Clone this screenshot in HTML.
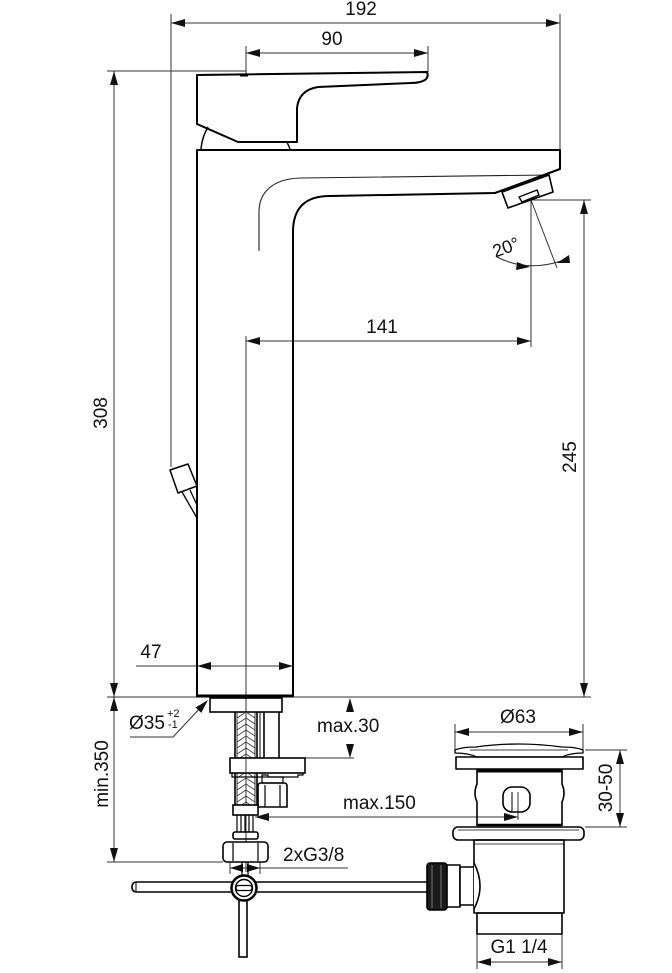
<!DOCTYPE html>
<html><head><meta charset="utf-8"><style>
html,body{margin:0;padding:0;background:#fff;}
svg{display:block;}
text{font-family:"Liberation Sans",Arial,sans-serif;fill:#111;}
</style></head><body>
<svg width="672" height="973" viewBox="0 0 672 973" xmlns="http://www.w3.org/2000/svg">
<defs>
<pattern id="braid" x="237" y="712" width="18" height="6" patternUnits="userSpaceOnUse">
<path d="M0,6 L9,0 L18,6" fill="none" stroke="#444" stroke-width="0.9"/>
</pattern>
</defs>

<!-- ===== DIMENSION / THIN LINES ===== -->
<g stroke="#333" stroke-width="1" fill="none">
<line x1="171" y1="23" x2="560" y2="23"/>
<line x1="171" y1="14" x2="171" y2="467"/>
<line x1="560" y1="14" x2="560" y2="150"/>
<line x1="246" y1="53" x2="428" y2="53"/>
<line x1="246" y1="46" x2="246" y2="75"/>
<line x1="428" y1="46" x2="428" y2="72"/>
<line x1="107" y1="71" x2="246" y2="71"/>
<line x1="114" y1="71" x2="114" y2="697"/>
<line x1="107" y1="697" x2="591" y2="697"/>
<line x1="114" y1="697" x2="114" y2="862"/>
<line x1="107" y1="862" x2="223" y2="862"/>
<line x1="246" y1="341" x2="531" y2="341"/>
<line x1="246" y1="336" x2="246" y2="872"/>
<line x1="531" y1="200" x2="531" y2="347"/>
<line x1="531" y1="200" x2="591" y2="200"/>
<line x1="584" y1="200" x2="584" y2="697"/>
<line x1="531" y1="200" x2="557" y2="268"/>
<path d="M497,257 Q530,274 569,258"/>
<line x1="136" y1="666" x2="293" y2="666"/>
<polyline points="130,737 173,737 203,705"/>
<line x1="304" y1="758" x2="354" y2="758"/>
<line x1="255" y1="817" x2="518" y2="817"/>
<line x1="518" y1="792" x2="518" y2="820"/>
<line x1="230" y1="860" x2="230" y2="874"/>
<line x1="260" y1="860" x2="260" y2="874"/>
<line x1="230" y1="868" x2="348" y2="868"/>
<line x1="455" y1="732" x2="583" y2="732"/>
<line x1="455" y1="724" x2="455" y2="750"/>
<line x1="583" y1="724" x2="583" y2="750"/>
<line x1="585" y1="750" x2="627" y2="750"/>
<line x1="585" y1="827" x2="627" y2="827"/>
<line x1="620" y1="750" x2="620" y2="827"/>
<line x1="477" y1="934" x2="477" y2="969"/>
<line x1="562" y1="934" x2="562" y2="969"/>
<line x1="477" y1="962" x2="562" y2="962"/>
<path d="M259,251 L259,212 C259,192 273,179 300,178 L549,175" stroke="#222" stroke-width="1.1"/>
</g>

<!-- ===== ARROWHEADS ===== -->
<g fill="#111" stroke="none">
<polygon points="171,23 185,19 185,27"/>
<polygon points="560,23 546,19 546,27"/>
<polygon points="246,53 260,49 260,57"/>
<polygon points="428,53 414,49 414,57"/>
<polygon points="114,71 110,85 118,85"/>
<polygon points="114,697 110,683 118,683"/>
<polygon points="114,697 110,711 118,711"/>
<polygon points="114,862 110,848 118,848"/>
<polygon points="246,341 260,337 260,345"/>
<polygon points="531,341 517,337 517,345"/>
<polygon points="584,200 580,214 588,214"/>
<polygon points="584,697 580,683 588,683"/>
<polygon points="197,666 211,662 211,670"/>
<polygon points="293,666 279,662 279,670"/>
<polygon points="530,267 517,262 516,270"/>
<polygon points="557,263 569,255 570,263"/>
<polygon points="208,700 201.3,712.9 195.5,707.5"/>
<polygon points="350,698 346,712 354,712"/>
<polygon points="350,758 346,744 354,744"/>
<polygon points="255,817 269,813 269,821"/>
<polygon points="518,817 504,813 504,821"/>
<polygon points="230,868 243,864 243,872"/>
<polygon points="260,868 247,864 247,872"/>
<polygon points="455,732 469,728 469,736"/>
<polygon points="583,732 569,728 569,736"/>
<polygon points="620,750 616,764 624,764"/>
<polygon points="620,827 616,813 624,813"/>
<polygon points="477,962 491,958 491,966"/>
<polygon points="562,962 548,958 548,966"/>
</g>

<!-- ===== FAUCET OBJECT LINES ===== -->
<g stroke="#000" stroke-width="2" fill="none" stroke-linejoin="round">
<path d="M197,75 L427,72 Q429,77 425,80 Q420,83 411,83 L318,87 Q299,90 297,108 L297,142 L238,142 L197,124 Z"/>
<line x1="240" y1="75" x2="248" y2="75" stroke-width="3"/>
<path d="M201,149 Q202,137 208,127" stroke-width="1.5"/>
<line x1="287" y1="142" x2="290" y2="149" stroke-width="1.5"/>
<path d="M197,697 L197,150 L560,150 L560,169 L495,193 L330,196 C305,196 293,208 293,232 L293,697"/>
<line x1="197" y1="696" x2="293" y2="696" stroke-width="3"/>
<polygon points="502,192 549,175 553,192 508,208" stroke-width="1.6"/>
<polygon points="519,197 537,190 539,195 522,202" stroke-width="1.4"/>
<polygon points="170,470 188,464 197,486 178,493" stroke-width="1.5"/>
<line x1="182" y1="492" x2="197" y2="518" stroke-width="1.3"/>
<line x1="190" y1="490" x2="197" y2="505" stroke-width="1.3"/>
</g>

<!-- ===== LOWER ASSEMBLY ===== -->
<g stroke="#000" stroke-width="1.6" fill="none">
<rect x="210" y="698" width="72" height="14"/>
<rect x="237" y="712" width="18" height="93" fill="url(#braid)" stroke="none"/>
<line x1="235" y1="712" x2="235" y2="805"/>
<line x1="257" y1="712" x2="257" y2="805"/>
<line x1="237" y1="712" x2="237" y2="805" stroke-width="0.8"/>
<line x1="255" y1="712" x2="255" y2="805" stroke-width="0.8"/>
<line x1="260" y1="712" x2="260" y2="758" stroke-width="1"/>
<line x1="264" y1="712" x2="264" y2="758"/>
<line x1="279" y1="712" x2="279" y2="758"/>
<rect x="230" y="758" width="75" height="15" fill="#fff"/>
<path d="M232,773 L232,777 L262,777 L262,775 L268,775 L268,777 L298,777 L298,775 L303,775 L303,773" stroke-width="1.2"/>
<rect x="262" y="777" width="21" height="6" stroke-width="1.2"/>
<path d="M258,786 Q258,783 261,783 L284,783 Q287,783 287,786 L287,807 L258,807 Z"/>
<line x1="265" y1="785" x2="265" y2="807" stroke-width="1.2"/>
<line x1="280" y1="785" x2="280" y2="807" stroke-width="1.2"/>
<line x1="246" y1="758" x2="246" y2="773" stroke="#333" stroke-width="1"/>
<rect x="233" y="805" width="25" height="10" fill="#fff"/>
<g stroke-width="1.2">
<line x1="237" y1="815" x2="237" y2="832"/>
<line x1="241" y1="815" x2="241" y2="832"/>
<line x1="245" y1="815" x2="245" y2="832"/>
<line x1="249" y1="815" x2="249" y2="832"/>
<line x1="253" y1="815" x2="253" y2="832"/>
</g>
<rect x="233" y="832" width="25" height="7" rx="2"/>
<rect x="223" y="842" width="45" height="20" rx="4" fill="#fff"/>
<line x1="233" y1="843" x2="233" y2="861" stroke-width="1.2"/>
<line x1="258" y1="843" x2="258" y2="861" stroke-width="1.2"/>
<line x1="242" y1="862" x2="242" y2="877" stroke-width="1.2"/>
<line x1="248" y1="862" x2="248" y2="877" stroke-width="1.2"/>
<path d="M427,882 L137,882 Q132,882 132,887 Q132,892 137,892 L427,892" fill="#fff"/>
<line x1="136" y1="882" x2="136" y2="892" stroke-width="1"/>
<rect x="239" y="897" width="8" height="60" fill="#fff"/>
<circle cx="244" cy="888" r="12.5" fill="#fff" stroke-width="2.5"/>
<circle cx="244" cy="888" r="8.5" stroke-width="1.4"/>
<rect x="236" y="885.5" width="16" height="5" rx="2.5" stroke-width="1.3"/>
</g>

<!-- ===== DRAIN ===== -->
<g stroke="#000" stroke-width="1.6" fill="none" stroke-linejoin="round">
<path d="M455,750 Q462,747 476,747 Q518,741 562,747 Q576,747 583,750 L583,753 Q570,753 562,757 L477,757 Q468,753 455,753 Z" stroke-width="1.3"/>
<line x1="470" y1="750" x2="568" y2="750" stroke-width="0.8"/>
<rect x="456" y="757" width="127" height="12"/>
<line x1="477" y1="771" x2="562" y2="771" stroke-width="3"/>
<path d="M477,769 L477,784 Q473,793 477,802 L477,826 M562,769 L562,784 Q566,793 562,802 L562,826"/>
<rect x="503" y="787" width="27" height="25" rx="9"/>
<line x1="512" y1="792" x2="512" y2="812" stroke-width="1"/>
<line x1="477" y1="825" x2="562" y2="825" stroke-width="2.5"/>
<rect x="453" y="827" width="131" height="13" rx="5"/>
<line x1="458" y1="830" x2="579" y2="830" stroke-width="0.8"/>
<rect x="474" y="840" width="90" height="73"/>
<line x1="474" y1="844" x2="564" y2="844" stroke-width="0.8"/>
<rect x="477" y="913" width="85" height="21"/>
<rect x="427" y="863" width="20" height="47" rx="3" fill="#1a1a1a"/>
<line x1="432" y1="865" x2="432" y2="908" stroke="#777" stroke-width="1"/>
<line x1="441" y1="865" x2="441" y2="908" stroke="#777" stroke-width="1"/>
<rect x="447" y="865" width="13" height="42" fill="#fff"/>
<rect x="460" y="867" width="14" height="38" fill="#fff"/>
<path d="M474,863 Q486,886 474,909" fill="#fff"/>
</g>

<!-- ===== TEXT ===== -->
<g font-size="19">
<text x="361" y="15" text-anchor="middle">192</text>
<text x="332" y="45" text-anchor="middle">90</text>
<text x="382" y="333" text-anchor="middle">141</text>
<text x="151" y="658" text-anchor="middle">47</text>
<text transform="translate(107,413) rotate(-90)" text-anchor="middle">308</text>
<text transform="translate(576,457) rotate(-90)" text-anchor="middle">245</text>
<text transform="translate(508,253) rotate(-20)" text-anchor="middle" font-size="18">20°</text>
<text x="129" y="729">Ø35</text>
<text x="167" y="717" font-size="11">+2</text>
<text x="168" y="728" font-size="11">-1</text>
<text x="317" y="732">max.30</text>
<text transform="translate(108,774) rotate(-90)" text-anchor="middle">min.350</text>
<text x="343" y="809">max.150</text>
<text x="283" y="861">2xG3/8</text>
<text x="518" y="723" text-anchor="middle">Ø63</text>
<text transform="translate(612,788) rotate(-90)" text-anchor="middle">30-50</text>
<text x="519" y="953" text-anchor="middle">G1 1/4</text>
</g>
</svg>
</body></html>
